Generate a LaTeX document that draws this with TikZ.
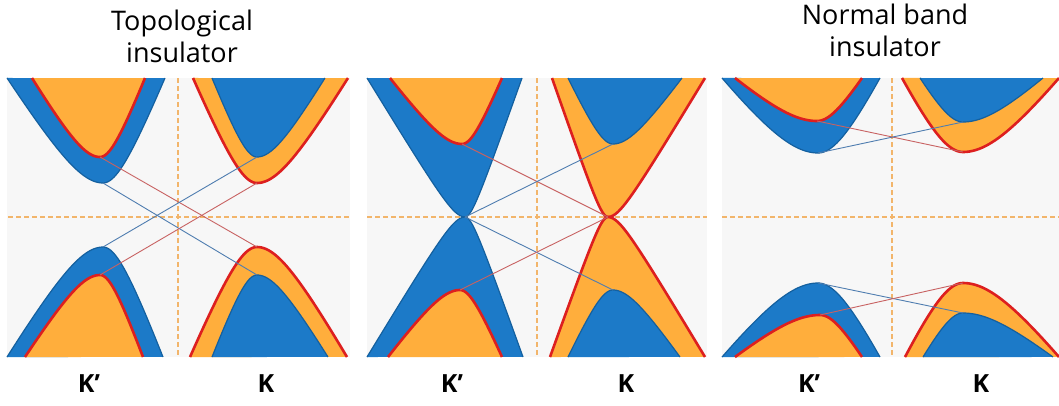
\documentclass[tikz,border=0pt]{standalone}
\usepackage{fontspec}
\setmainfont{Open Sans}
\definecolor{bandblue}{HTML}{1C7AC8}
\definecolor{bandrimblue}{HTML}{14609F}
\definecolor{bandorange}{HTML}{FFAE3C}
\definecolor{bandred}{HTML}{DD1F1F}
\definecolor{guideorange}{HTML}{F2B56B}
\definecolor{panelgray}{HTML}{F7F7F7}
\definecolor{linered}{HTML}{C86262}
\definecolor{lineblue}{HTML}{4F7DB0}

% one band: fill, rim, name, vertex x, vertex y, left end, right end, edge y, roundness
\newcommand{\band}[9]{%
  \coordinate (#3) at (#4,#5);
  \fill[#1] plot[domain=-1:0,samples=40,variable=\t] ({#4+(#4-#6)*\t},{#5+(#8-#5)*(sqrt(#9*#9+\t*\t)-#9)/(sqrt(#9*#9+1)-#9)})
    -- plot[domain=0:1,samples=40,variable=\t] ({#4+(#7-#4)*\t},{#5+(#8-#5)*(sqrt(#9*#9+\t*\t)-#9)/(sqrt(#9*#9+1)-#9)}) -- cycle;
  \draw[#2] plot[domain=-1:0,samples=40,variable=\t] ({#4+(#4-#6)*\t},{#5+(#8-#5)*(sqrt(#9*#9+\t*\t)-#9)/(sqrt(#9*#9+1)-#9)})
    -- plot[domain=0:1,samples=40,variable=\t] ({#4+(#7-#4)*\t},{#5+(#8-#5)*(sqrt(#9*#9+\t*\t)-#9)/(sqrt(#9*#9+1)-#9)});
}

\tikzset{
  redrim/.style={draw=bandred, line width=2.6pt, line join=round},
  bluerim/.style={draw=bandrimblue, line width=1.2pt, line join=round},
  guide/.style={draw=guideorange, line width=1.1pt, dash pattern=on 5pt off 3pt},
  stateR/.style={draw=linered, line width=0.9pt},
  stateB/.style={draw=lineblue, line width=0.9pt},
  title/.style={font=\fontsize{27}{32}\selectfont, align=center, anchor=north, inner sep=0pt},
  klabel/.style={font=\fontsize{25}{25}\selectfont\bfseries, inner sep=0pt}
}

\begin{document}
\begin{tikzpicture}[x=1pt, y=-1pt]
  \useasboundingbox[fill=white] (0,0) rectangle (1059,405);

  % panels
  \fill[panelgray] (7,78) rectangle (350,357);
  \fill[panelgray] (367,78) rectangle (707,357);
  \fill[panelgray] (722,78) rectangle (1059,357);

  % guides
  \draw[guide] (8,217) -- (350,217);
  \draw[guide] (178,78) -- (178,357);
  \draw[guide] (367,217) -- (707,217);
  \draw[guide] (537,78) -- (537,357);
  \draw[guide] (722,217) -- (1059,217);
  \draw[guide] (892,78) -- (892,357);

  % topological insulator
  \band{bandblue}{bluerim}{aKpUo}{103}{183}{7}{165}{78}{0.4}
  \band{bandorange}{redrim}{aKpUi}{100}{157}{32}{145}{78}{0.4}
  \band{bandblue}{bluerim}{aKpLo}{103}{247}{7}{163}{357}{0.4}
  \band{bandorange}{redrim}{aKpLi}{100}{275}{25}{143}{357}{0.4}
  \band{bandorange}{redrim}{aKUo}{257}{183}{193}{348}{78}{0.4}
  \band{bandblue}{bluerim}{aKUi}{257}{157}{212}{325}{78}{0.4}
  \band{bandorange}{redrim}{aKLo}{257}{247}{190}{347}{357}{0.4}
  \band{bandblue}{bluerim}{aKLi}{257}{275}{212}{328}{357}{0.4}
  \draw[stateR] (aKpUi) -- (aKLo);
  \draw[stateB] (aKpUo) -- (aKLi);
  \draw[stateB] (aKpLo) -- (aKUi);
  \draw[stateR] (aKpLi) -- (aKUo);

  % transition point
  \band{bandblue}{bluerim}{bKpUo}{465}{217}{367}{522}{78}{0.15}
  \band{bandorange}{redrim}{bKpUi}{462}{144}{390}{502}{78}{0.4}
  \band{bandblue}{bluerim}{bKpLo}{465}{217}{367}{523}{357}{0.15}
  \band{bandorange}{redrim}{bKpLi}{460}{290}{388}{502}{357}{0.4}
  \band{bandorange}{redrim}{bKUo}{608}{217}{552}{705}{78}{0.15}
  \band{bandblue}{bluerim}{bKUi}{613}{144}{568}{682}{78}{0.4}
  \band{bandorange}{redrim}{bKLo}{608}{217}{550}{705}{357}{0.15}
  \band{bandblue}{bluerim}{bKLi}{613}{290}{568}{680}{357}{0.4}
  \draw[stateR] (bKpUi) -- (bKUo);
  \draw[stateB] (bKpUo) -- (bKUi);
  \draw[stateB] (bKpLo) -- (bKLi);
  \draw[stateR] (bKpLi) -- (bKLo);

  % normal band insulator
  \band{bandblue}{bluerim}{cKpUo}{818}{153}{722}{880}{78}{0.55}
  \band{bandorange}{redrim}{cKpUi}{817}{121}{735}{862}{78}{0.55}
  \band{bandblue}{bluerim}{cKpLo}{818}{283}{722}{880}{357}{0.55}
  \band{bandorange}{redrim}{cKpLi}{820}{315}{735}{862}{357}{0.55}
  \band{bandorange}{redrim}{cKUo}{963}{152}{902}{1059}{78}{0.55}
  \band{bandblue}{bluerim}{cKUi}{963}{122}{920}{1043}{78}{0.55}
  \band{bandorange}{redrim}{cKLo}{963}{283}{905}{1059}{357}{0.55}
  \band{bandblue}{bluerim}{cKLi}{963}{313}{923}{1053}{357}{0.55}
  \draw[stateR] (cKpUi) -- (cKUo);
  \draw[stateB] (cKpUo) -- (cKUi);
  \draw[stateB] (cKpLo) -- (cKLi);
  \draw[stateR] (cKpLi) -- (cKLo);

  % titles and valley labels
  \node[title] (topo) at (182,10) {Topological\\insulator};
  \node[title] (normal) at (885,4) {Normal band\\insulator};
  \node[klabel] (aKp) at (89,384) {K’};
  \node[klabel] (aK) at (266,384) {K};
  \node[klabel] (bKp) at (452,384) {K’};
  \node[klabel] (bK) at (626,384) {K};
  \node[klabel] (cKp) at (809,384) {K’};
  \node[klabel] (cK) at (981,384) {K};
\end{tikzpicture}
\end{document}
